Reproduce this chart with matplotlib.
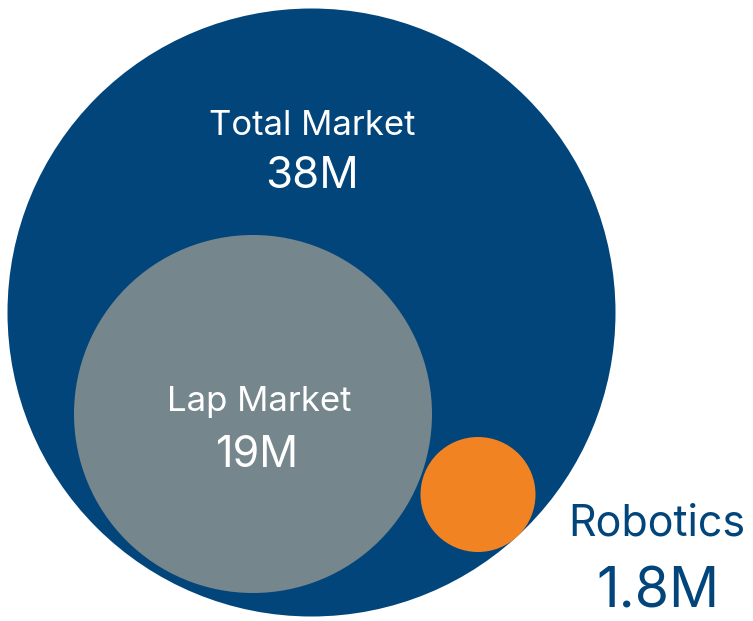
import matplotlib
matplotlib.use("Agg")
import matplotlib.pyplot as plt
from matplotlib.patches import Circle

plt.rcParams['font.family'] = ['Inter', 'DejaVu Sans']

# segments of the market
names = ['Total Market', 'Lap Market', 'Robotics']
values = ['38M', '19M', '1.8M']
colors = ['#01457B', '#76868D', '#F28322']

# circle layout in pixel coordinates (x, y, r)
layout = [(311.5, 312.5, 304), (253, 414, 179), (478, 494.5, 57.5)]

fig = plt.figure(figsize=(7.53, 6.21), dpi=100)
ax = fig.add_axes([0, 0, 1, 1])
ax.set_xlim(0, 753)
ax.set_ylim(621, 0)
ax.set_aspect('equal')
ax.axis('off')

for (x, y, r), c in zip(layout, colors):
    ax.add_patch(Circle((x, y), r, color=c, ec='none'))

# labels inside circles
ax.text(312, 135, names[0], color='white', fontsize=25, ha='center', va='baseline')
ax.text(312, 188, values[0], color='white', fontsize=31.5, ha='center', va='baseline')
ax.text(259, 411, names[1], color='white', fontsize=25, ha='center', va='baseline')
ax.text(258, 467, values[1], color='white', fontsize=31, ha='center', va='baseline')

# robotics label outside
ax.text(657, 535, names[2], color=colors[0], fontsize=31, ha='center', va='baseline')
ax.text(658, 608, values[2], color=colors[0], fontsize=40, ha='center', va='baseline')

fig.savefig('out.png', dpi=100)
